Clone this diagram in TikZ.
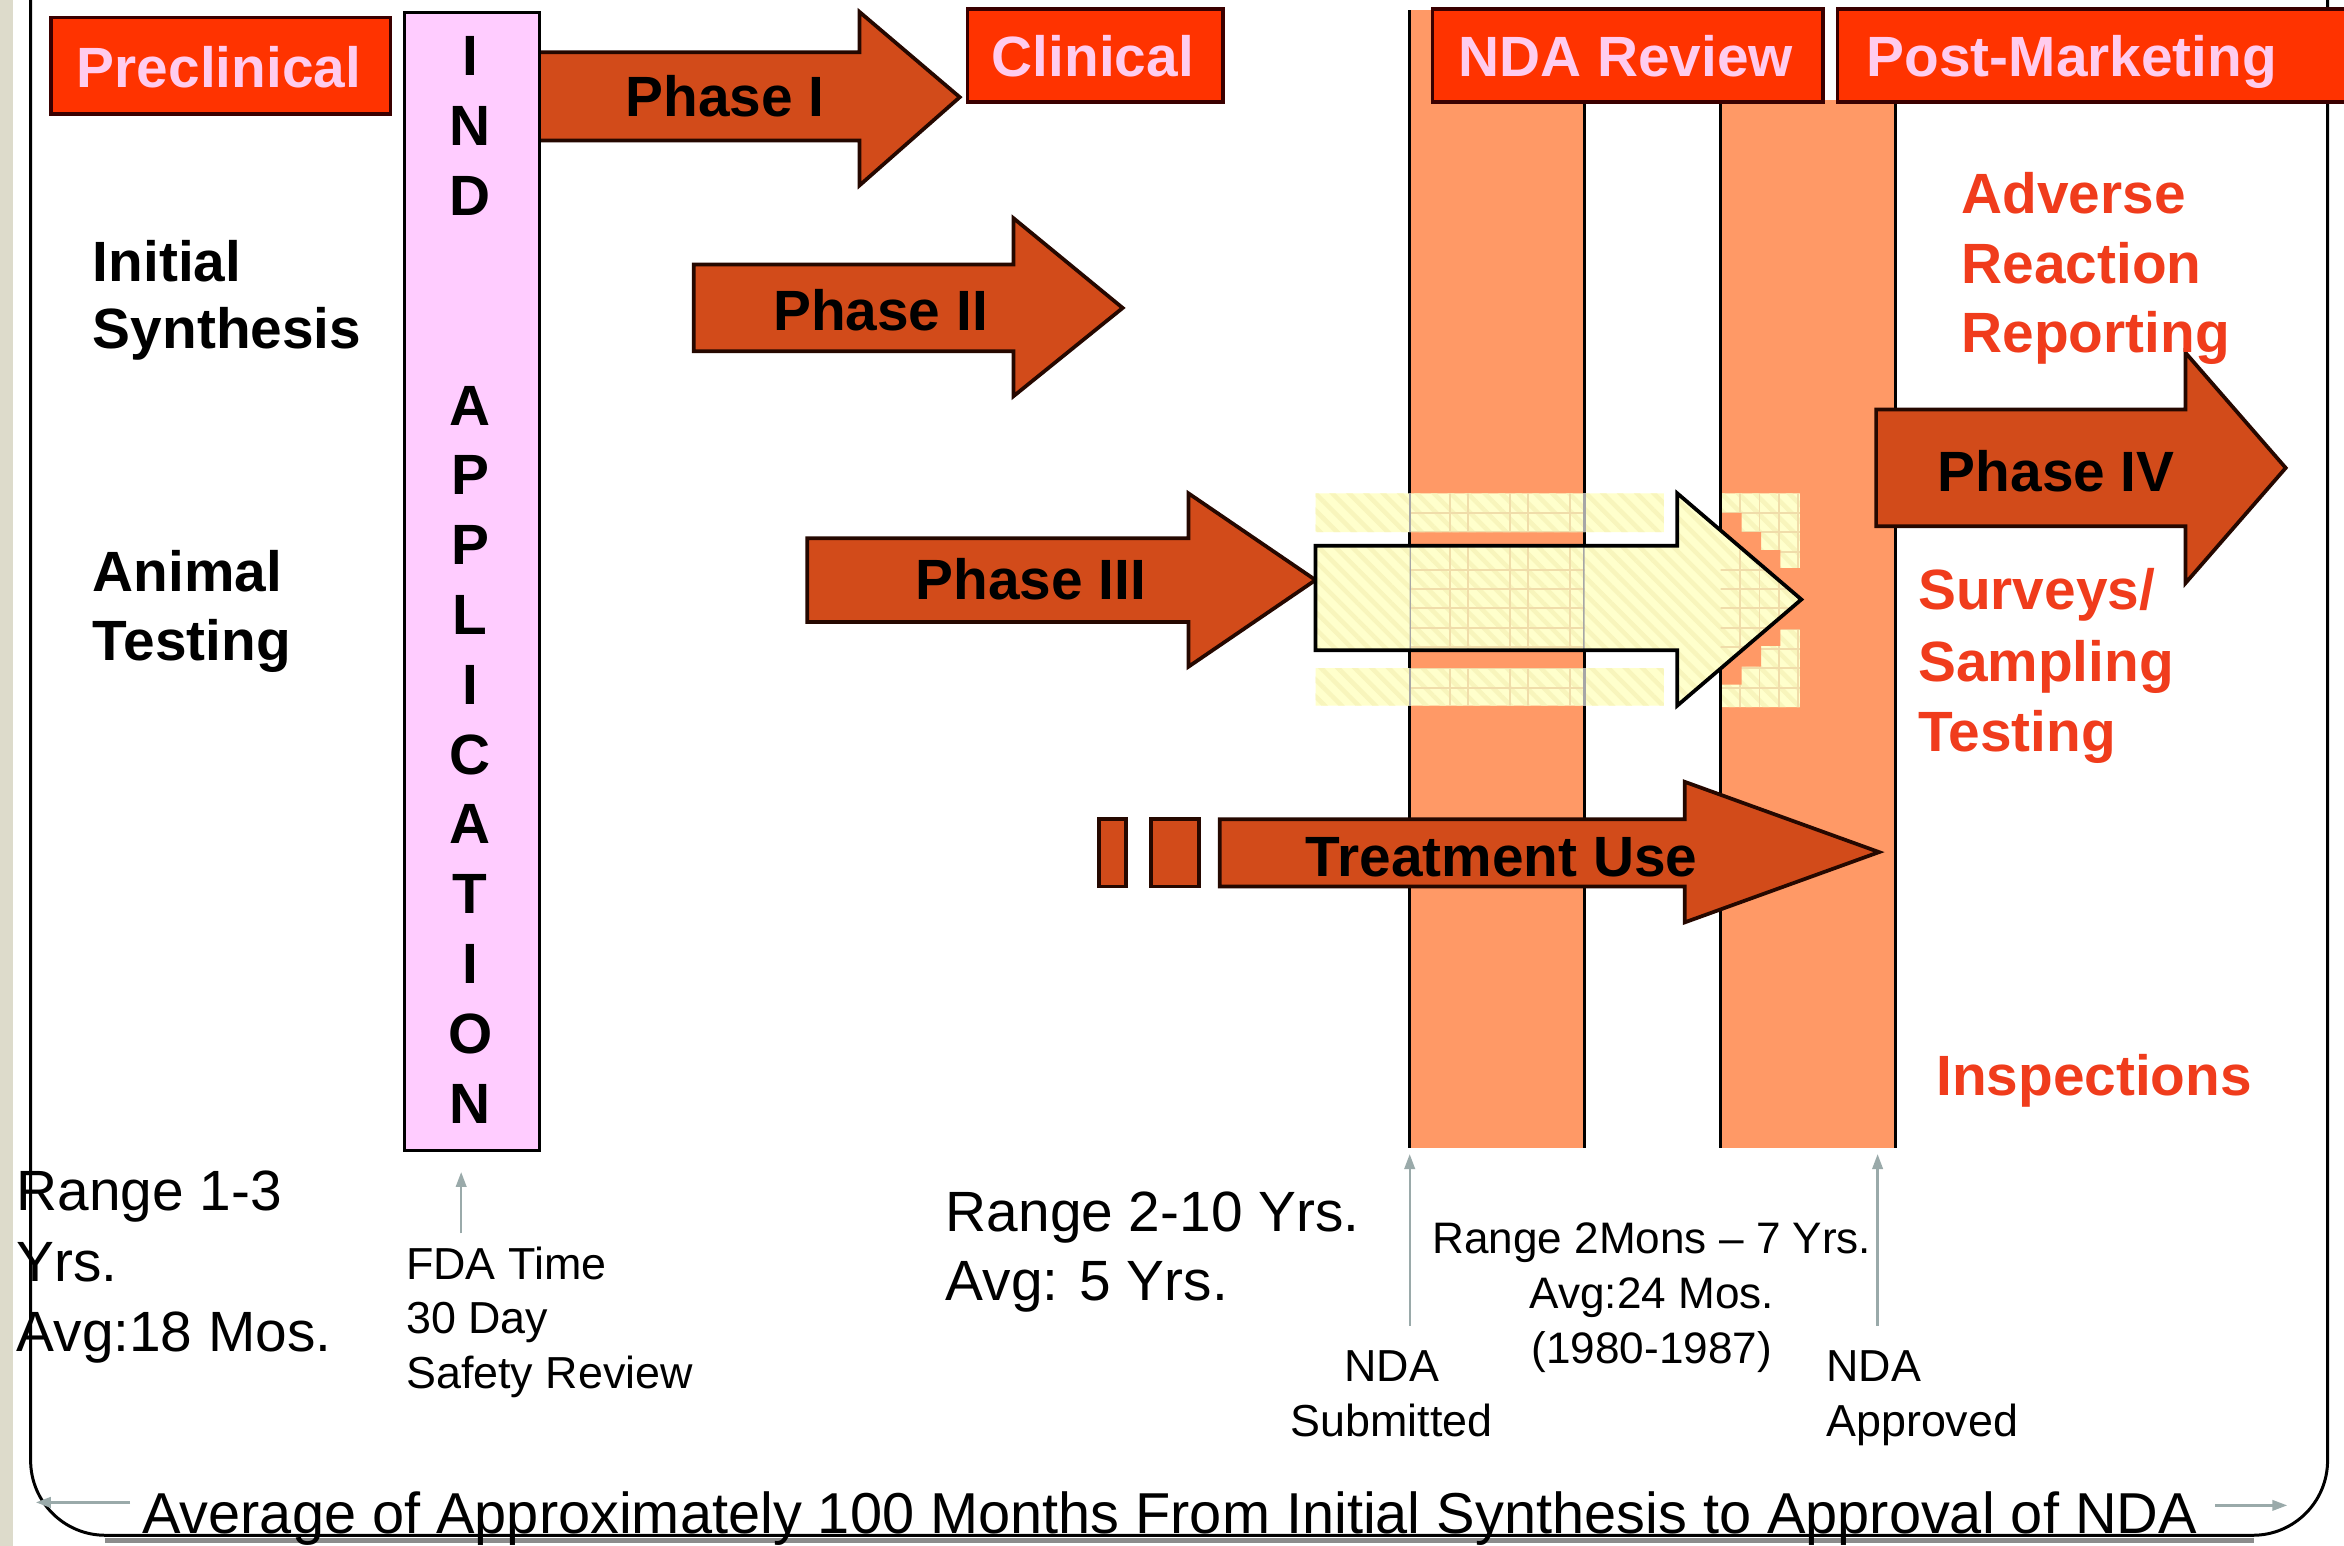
\documentclass[tikz,border=0pt]{standalone}
\usepackage{fontspec}
\setmainfont{Liberation Sans}
\usetikzlibrary{arrows.meta,patterns.meta}
\definecolor{hdrred}{HTML}{FF3300}
\definecolor{hdrtext}{HTML}{FFCCEE}
\definecolor{hdredge}{HTML}{3A0000}
\definecolor{arrfill}{HTML}{D24B1A}
\definecolor{arredge}{HTML}{250800}
\definecolor{barorange}{HTML}{FF9966}
\definecolor{indpink}{HTML}{FFCCFF}
\definecolor{redtext}{HTML}{F03C1C}
\definecolor{greyarrow}{HTML}{9AAAAA}
\definecolor{paleyellow}{HTML}{FFFFCC}
\definecolor{stripecol}{HTML}{F8F5BC}
\definecolor{gridtan}{HTML}{F0DDAA}
\definecolor{texturecol}{HTML}{DDDBCB}
\newcommand\fbig{\fontsize{38}{46}\selectfont}
\newcommand\fmid{\fontsize{30}{36}\selectfont}
\newcommand\fsml{\fontsize{29.5}{36}\selectfont}
\newcommand\fbot{\fontsize{38.6}{46}\selectfont}
% #1 style, #2 x0, #3 head back x, #4 tip x, #5 shaft top, #6 shaft bottom, #7 head top, #8 head bottom, #9 tip y
\newcommand\blockarrow[9]{%
  \draw[#1] (#2,#5) -- (#3,#5) -- (#3,#7) -- (#4,#9) -- (#3,#8) -- (#3,#6) -- (#2,#6) -- cycle;}
\tikzset{
  hdrbox/.style={draw=hdredge, line width=2.5pt, fill=hdrred},
  hdrlabel/.style={text=hdrtext, font=\fbig\bfseries, anchor=base, inner sep=0pt},
  blockarr/.style={draw=arredge, line width=2.5pt, fill=arrfill, line join=miter},
  arrlabel/.style={font=\fbig\bfseries, anchor=base, inner sep=0pt},
  boldlabel/.style={font=\fbig\bfseries, anchor=base west, inner sep=0pt},
  redlabel/.style={font=\fbig\bfseries, anchor=base west, inner sep=0pt, text=redtext},
  indletter/.style={font=\fbig\bfseries, anchor=base, inner sep=0pt},
  reglabel/.style={font=\fbig, anchor=base west, inner sep=0pt},
  midlabel/.style={font=\fmid, anchor=base west, inner sep=0pt},
  midlabelc/.style={font=\fmid, anchor=base, inner sep=0pt},
  smllabelc/.style={font=\fsml, anchor=base, inner sep=0pt},
  greyarr/.style={draw=greyarrow, line width=1.6pt, -{Triangle[length=10pt,width=7pt]}},
  gridline/.style={draw=gridtan, line width=1.3pt},
  ghostfill/.style={fill opacity=0.88, preaction={fill=paleyellow},
     pattern={Lines[angle=-45,distance=8pt,line width=3pt]}, pattern color=stripecol},
  baredge/.style={draw=black, line width=2pt}
}
\begin{document}
\begin{tikzpicture}[x=1pt,y=-1pt]
\useasboundingbox (0,0) rectangle (1568,1034);
\fill[white] (0,0) rectangle (1568,1034);
\fill[texturecol] (0,0) rectangle (9,1034);

% outer frame
\draw[line width=2pt, rounded corners=50pt] (20.5,0) -- (20.5,1027) -- (1557,1027) -- (1557,0);
\draw[black!45, line width=3pt] (70,1030.5) -- (1508,1030.5);

% NDA review bars
\fill[barorange] (943,7) rectangle (1060,768);
\fill[barorange] (1151,67) rectangle (1268,768);
\draw[baredge] (943,7) -- (943,768) (1060,67) -- (1060,768);
\draw[baredge] (1151,67) -- (1151,768) (1268,67) -- (1268,768);

% header boxes
\node[hdrbox, anchor=north west, minimum width=227pt, minimum height=64.5pt, inner sep=0pt] (prebox) at (33,10.5) {};
\node[hdrbox, anchor=north west, minimum width=171pt, minimum height=62pt, inner sep=0pt] (clinbox) at (646,5) {};
\node[hdrbox, anchor=north west, minimum width=261pt, minimum height=62pt, inner sep=0pt] (ndabox) at (957,5) {};
\node[hdrbox, anchor=north west, minimum width=360pt, minimum height=62pt, inner sep=0pt] (postbox) at (1228,5) {};
\node[hdrlabel] (pretxt) at (146.5,58.5) {Preclinical};
\node[hdrlabel] (clintxt) at (731,51) {Clinical};
\node[hdrlabel] (ndatxt) at (1087.5,51) {NDA Review};
\node[hdrlabel] (posttxt) at (1386,51) {Post-Marketing};

% phase arrows
\blockarrow{blockarr}{360}{575}{642}{35}{94}{8}{124}{65}
\node[arrlabel] (p1) at (485,78) {Phase I};
\blockarrow{blockarr}{464}{678}{751}{177}{235}{146}{265}{206}
\node[arrlabel] (p2) at (589,221) {Phase II};
\blockarrow{blockarr}{540}{795}{880}{360}{416}{330}{446}{388}
\node[arrlabel] (p3) at (689.5,401) {Phase III};
\blockarrow{blockarr}{1255}{1462}{1529}{274}{352}{236}{390}{313}
\node[arrlabel] (p4) at (1375.5,329) {Phase IV};

% treatment use
\draw[blockarr] (735,548) rectangle (753,593);
\draw[blockarr] (770,548) rectangle (802,593);
\blockarrow{blockarr}{816}{1127}{1257}{548}{593}{523}{617}{570}
\node[arrlabel] (tu) at (1004.5,586) {Treatment Use};

% ghost (accelerated) arrow bands
\path[ghostfill] (880,330) rectangle (1113,356) (880,447) rectangle (1113,472) (1151,330) rectangle (1204,473);
\begin{scope}
\clip (943,330) rectangle (1060,356) (943,447) rectangle (1060,472) (1151,330) rectangle (1204,473);
\foreach \x in {970,982,1010,1022,1050} \draw[gridline] (\x,320) -- (\x,480);
\foreach \x in {1164,1177,1190,1203} \draw[gridline] (\x,320) -- (\x,480);
\foreach \y in {343,356,...,472} \draw[gridline] (930,\y) -- (1210,\y);
\end{scope}
\fill[barorange] (1152,343) -- (1165,343) -- (1165,356) -- (1178,356) -- (1178,368) -- (1191,368) -- (1191,380) -- (1204,380) -- (1204,421) -- (1191,421) -- (1191,432) -- (1178,432) -- (1178,446) -- (1165,446) -- (1165,458) -- (1152,458) -- cycle;
\draw[baredge] (1151,320) -- (1151,480);
\draw[black!35, line width=1.5pt] (943,330) -- (943,356) (943,447) -- (943,472) (1060,330) -- (1060,356) (1060,447) -- (1060,472);
% ghost arrow
\blockarrow{ghostfill}{880}{1122}{1205}{365}{435}{330}{472}{401}
\begin{scope}
\clip (880,365) -- (1122,365) -- (1122,330) -- (1205,401) -- (1122,472) -- (1122,435) -- (880,435) -- cycle;
\clip (943,0) rectangle (1060,1034) (1151,0) rectangle (1268,1034);
\foreach \x in {970,982,1010,1022,1050} \draw[gridline] (\x,320) -- (\x,480);
\foreach \x in {1164,1177,1190,1203} \draw[gridline] (\x,320) -- (\x,480);
\foreach \y in {381,394,...,435} \draw[gridline] (930,\y) -- (1210,\y);
\draw[black!35, line width=1.5pt] (943,360) -- (943,440) (1060,360) -- (1060,440);
\end{scope}
\blockarrow{draw=black, line width=2.5pt, line join=miter}{880}{1122}{1205}{365}{435}{330}{472}{401}

% IND application bar
\node[draw=black, line width=2pt, fill=indpink, anchor=north west, minimum width=90.5pt, minimum height=761pt, inner sep=0pt] (indbar) at (269.5,7.5) {};
\foreach \L [count=\k from 0] in {I,N,D,,,A,P,P,L,I,C,A,T,I,O,N}
  \node[indletter] (ind\k) at (314.5,50.8+46.7*\k) {\L};

% left labels
\node[boldlabel] (init1) at (62,188) {Initial};
\node[boldlabel] (init2) at (62,233) {Synthesis};
\node[boldlabel] (anim1) at (62,396) {Animal};
\node[boldlabel] (anim2) at (62,442) {Testing};

% post-marketing labels
\node[redlabel] (adv1) at (1312,143) {Adverse};
\node[redlabel] (adv2) at (1312,189.5) {Reaction};
\node[redlabel] (adv3) at (1312,236) {Reporting};
\node[redlabel] (sur1) at (1283,408) {Surveys/};
\node[redlabel] (sur2) at (1283,456) {Sampling};
\node[redlabel] (sur3) at (1283,503) {Testing};
\node[redlabel] (insp) at (1295,733) {Inspections};

% bottom labels
\node[reglabel] (r13a) at (11,810) {Range 1-3};
\node[reglabel] (r13b) at (11,857) {Yrs.};
\node[reglabel] (r13c) at (11,904) {Avg:18 Mos.};
\node[midlabel] (fda1) at (271.5,856) {FDA Time};
\node[midlabel] (fda2) at (271.5,892) {30 Day};
\node[midlabel] (fda3) at (271.5,928.5) {Safety Review};
\coordinate (fdaS) at (308.5,825);
\coordinate (fdaE) at (308.5,784);
\draw[greyarr] (fdaS) -- (fdaE);
\node[reglabel] (r210a) at (632.5,824) {Range 2-10 Yrs.};
\node[reglabel] (r210b) at (632.5,870) {Avg: 5 Yrs.};
\node[smllabelc] (rmon1) at (1105,838.5) {Range 2Mons – 7 Yrs.};
\node[smllabelc] (rmon2) at (1105,875) {Avg:24 Mos.};
\node[smllabelc] (rmon3) at (1105,912) {(1980-1987)};
\node[midlabelc] (subm1) at (931,924) {NDA};
\node[midlabelc] (subm2) at (931,961) {Submitted};
\node[midlabel] (appr1) at (1221.5,924) {NDA};
\node[midlabel] (appr2) at (1221.5,961) {Approved};
\coordinate (subS) at (943,887);
\coordinate (subE) at (943,772);
\coordinate (appS) at (1256,887);
\coordinate (appE) at (1256,772);
\draw[greyarr] (subS) -- (subE);
\draw[greyarr] (appS) -- (appE);

% bottom total
\node[font=\fbot, anchor=base, inner sep=0pt] (total) at (782.5,1025.5) {Average of Approximately 100 Months From Initial Synthesis to Approval of NDA};
\coordinate (totL) at (87,1005);
\coordinate (totLe) at (24,1005);
\coordinate (totR) at (1482,1007);
\coordinate (totRe) at (1530,1007);
\draw[greyarr] (totL) -- (totLe);
\draw[greyarr] (totR) -- (totRe);
\end{tikzpicture}
\end{document}
